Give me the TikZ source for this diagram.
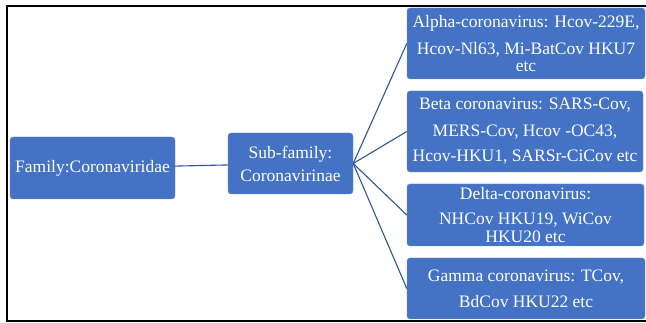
\documentclass[tikz,border=0pt]{standalone}
\usepackage{fontspec}
\setmainfont{Liberation Serif}
\usepackage{tikz}
\usetikzlibrary{positioning,calc}
\definecolor{boxblue}{HTML}{4472C4}
\definecolor{boxedge}{HTML}{6F91D2}
\definecolor{linkblue}{HTML}{2F5597}
\tikzset{
    taxon/.style={draw=boxedge, fill=boxblue, rounded corners=3pt, text=white, align=center,
        inner sep=0pt, font={\fontsize{17.5}{27}\selectfont}},
    link/.style={linkblue, line width=1.1pt},
    frame/.style={black, line width=2.5pt}
}

\begin{document}
\begin{tikzpicture}[x=1pt, y=-1pt]
                \useasboundingbox (0,0) rectangle (646,323);
                \draw[frame] (646,6) -- (7,6) -- (7,321) -- (646,321);
                \node[taxon, minimum width=165pt, minimum height=62pt] (fam) at (92.5,168) {Family:Coronaviridae};
                \node[taxon, minimum width=125pt, minimum height=61pt] (sub) at (290.5,163.5) {Sub-family:\\[-4pt]Coronavirinae};
                \node[taxon, minimum width=238pt, minimum height=71pt] (alpha) at (526,43.5) {Alpha-coronavirus: Hcov-229E,\\Hcov-Nl63, Mi-BatCov HKU7\\[-10pt]etc};
                \node[taxon, minimum width=236pt, minimum height=81pt] (beta) at (525,131.5) {Beta coronavirus: SARS-Cov,\\MERS-Cov, Hcov -OC43,\\[-2pt]Hcov-HKU1, SARSr-CiCov etc};
                \node[taxon, minimum width=237pt, minimum height=62pt] (delta) at (525.5,215) {Delta-coronavirus:\\[-2pt]NHCov HKU19, WiCov\\[-9pt]HKU20 etc};
                \node[taxon, minimum width=238pt, minimum height=61pt] (gamma) at (526,288.5) {Gamma coronavirus: TCov,\\[-1pt]BdCov HKU22 etc};
                \draw[link] (fam) -- (sub);
                \foreach \kid in {alpha,beta,delta,gamma}
                    \draw[link] (sub.east) -- (\kid.west);
            \end{tikzpicture}
\end{document}
